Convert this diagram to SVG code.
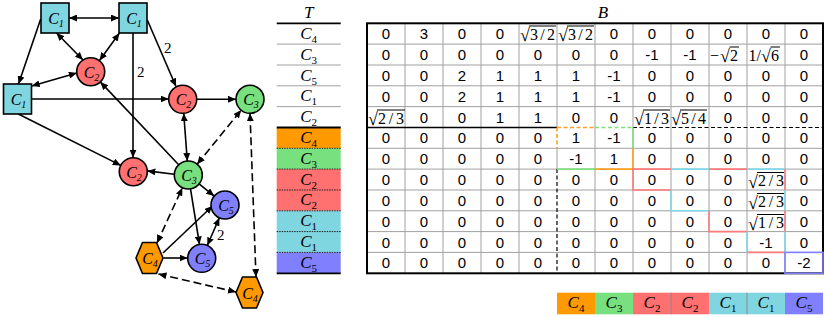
<svg xmlns="http://www.w3.org/2000/svg" width="830" height="318" viewBox="0 0 830 318">
<style>
.nd{stroke:#000;stroke-width:1.6}
.cy{fill:#80d6e0}.rd{fill:#ff7070}.gr{fill:#78e07e}.pu{fill:#8080ff}.or{fill:#ff9900}
.lb{font-family:"Liberation Serif",serif;font-size:16px;font-style:italic;fill:#000}
.sb{font-size:10px}
.e{fill:none;stroke:#000;stroke-width:1.6}
.d{stroke-dasharray:8 4}
.w{font-family:"Liberation Serif",serif;font-size:15px;fill:#000}
.n{font-family:"Liberation Sans",Arial,sans-serif;font-size:15px;text-anchor:middle;fill:#000}
.sq{font-family:"Liberation Serif",serif;font-size:18px;fill:#000}
.sa{font-family:"Liberation Serif",serif;font-size:16px;fill:#000}
.ov{stroke:#000;stroke-width:1}
.tl{font-family:"Liberation Serif",serif;font-size:17px;text-anchor:middle;fill:#000}
.tl .it{font-style:italic}
.tl .sb{font-size:11px}
.g{stroke:#a0a0a0;stroke-width:1}
.hl{stroke-width:1.6;fill:none}
.ho{stroke:#ffa020}.hg{stroke:#80e080}.hr{stroke:#ff7a7a}.hc{stroke:#80d8e8}.hp{stroke:#8080ff}
</style>
<defs>
<marker id="ah" viewBox="0 0 8 7" refX="8" refY="3.5" markerWidth="8" markerHeight="7" markerUnits="userSpaceOnUse" orient="auto-start-reverse"><path d="M0,0 L8,3.5 L0,7 z" fill="#000"/></marker>
</defs>

<g id="connectors">
<line class="e" x1="69" y1="18" x2="119" y2="18" marker-start="url(#ah)" marker-end="url(#ah)"/>
<line class="e" x1="40.7" y1="19" x2="18.5" y2="84" marker-end="url(#ah)"/>
<line class="e" x1="56.5" y1="33" x2="83" y2="60" marker-start="url(#ah)" marker-end="url(#ah)"/>
<line class="e" x1="119.5" y1="33" x2="99.5" y2="60.5" marker-start="url(#ah)" marker-end="url(#ah)"/>
<line class="e" x1="76.8" y1="73" x2="31.7" y2="86" marker-start="url(#ah)" marker-end="url(#ah)"/>
<line class="e" x1="147.3" y1="20" x2="176" y2="86.5" marker-end="url(#ah)"/>
<line class="e" x1="133" y1="33" x2="133" y2="157.7" marker-end="url(#ah)"/>
<line class="e" x1="31.5" y1="99" x2="168.7" y2="99" marker-end="url(#ah)"/>
<line class="e" x1="196.7" y1="99.3" x2="236" y2="99.3" marker-end="url(#ah)"/>
<line class="e" x1="18.3" y1="114" x2="120.8" y2="165.4" marker-end="url(#ah)"/>
<line class="e" x1="178.7" y1="164.8" x2="100.3" y2="81.9" marker-end="url(#ah)"/>
<line class="e" x1="183.7" y1="113.3" x2="187.3" y2="161" marker-start="url(#ah)" marker-end="url(#ah)"/>
<line class="e d" x1="197.1" y1="164.2" x2="241.2" y2="110.1" marker-start="url(#ah)" marker-end="url(#ah)"/>
<line class="e d" x1="250" y1="113.3" x2="256" y2="277" marker-start="url(#ah)" marker-end="url(#ah)"/>
<line class="e" x1="174.3" y1="174.2" x2="147.3" y2="170.9" marker-end="url(#ah)"/>
<line class="e" x1="199.1" y1="183.9" x2="214.2" y2="196.1" marker-end="url(#ah)"/>
<line class="e" x1="190.5" y1="188.8" x2="199.5" y2="244.5" marker-end="url(#ah)"/>
<line class="e" x1="219.4" y1="217.8" x2="207.3" y2="245.5" marker-start="url(#ah)" marker-end="url(#ah)"/>
<line class="e d" x1="157" y1="243" x2="182.4" y2="187.7" marker-start="url(#ah)" marker-end="url(#ah)"/>
<line class="e" x1="163" y1="253" x2="212.5" y2="206" marker-end="url(#ah)"/>
<line class="e" x1="163.5" y1="258" x2="187.5" y2="258" marker-end="url(#ah)"/>
<line class="e d" x1="158.5" y1="274" x2="236" y2="292" marker-start="url(#ah)" marker-end="url(#ah)"/>
<text class="w" x="164" y="53">2</text>
<text class="w" x="137" y="77">2</text>
<text class="w" x="217" y="240">2</text>
</g>

<g id="n-c1-a"><rect class="nd cy" x="41" y="3" width="28" height="30"/><text class="lb" x="56" y="24" text-anchor="middle">C<tspan class="sb" dy="3">1</tspan></text></g>
<g id="n-c1-b"><rect class="nd cy" x="119" y="3" width="28" height="30"/><text class="lb" x="134" y="24" text-anchor="middle">C<tspan class="sb" dy="3">1</tspan></text></g>
<g id="n-c1-c"><rect class="nd cy" x="3.5" y="84" width="28" height="30"/><text class="lb" x="18.5" y="105" text-anchor="middle">C<tspan class="sb" dy="3">1</tspan></text></g>
<g id="n-c2-a"><circle class="nd rd" cx="90.7" cy="71.7" r="14"/><text class="lb" x="91.5" y="77.5" text-anchor="middle">C<tspan class="sb" dy="3">2</tspan></text></g>
<g id="n-c2-b"><circle class="nd rd" cx="182.7" cy="99.3" r="14"/><text class="lb" x="183.5" y="105" text-anchor="middle">C<tspan class="sb" dy="3">2</tspan></text></g>
<g id="n-c3-a"><circle class="nd gr" cx="250" cy="99.3" r="14"/><text class="lb" x="251" y="105" text-anchor="middle">C<tspan class="sb" dy="3">3</tspan></text></g>
<g id="n-c2-c"><circle class="nd rd" cx="133.3" cy="171.7" r="14"/><text class="lb" x="134" y="177.5" text-anchor="middle">C<tspan class="sb" dy="3">2</tspan></text></g>
<g id="n-c3-b"><circle class="nd gr" cx="188.3" cy="175" r="14"/><text class="lb" x="189" y="181" text-anchor="middle">C<tspan class="sb" dy="3">3</tspan></text></g>
<g id="n-c5-a"><circle class="nd pu" cx="225" cy="205" r="14"/><text class="lb" x="226" y="211" text-anchor="middle">C<tspan class="sb" dy="3">5</tspan></text></g>
<g id="n-c5-b"><circle class="nd pu" cx="201.7" cy="258.3" r="14"/><text class="lb" x="202.5" y="264" text-anchor="middle">C<tspan class="sb" dy="3">5</tspan></text></g>
<g id="n-c4-a"><polygon class="nd or" points="136,258 142.5,242.5 156.5,242.5 163,258 156.5,273.5 142.5,273.5"/><text class="lb" x="150" y="264" text-anchor="middle">C<tspan class="sb" dy="3">4</tspan></text></g>
<g id="n-c4-b"><polygon class="nd or" points="236,292.5 242.5,277 256.5,277 263,292.5 256.5,308 242.5,308"/><text class="lb" x="250" y="298.5" text-anchor="middle">C<tspan class="sb" dy="3">4</tspan></text></g>

<g id="table-t">
<text class="tl" x="308.7" y="18"><tspan class="it">T</tspan></text>
<rect class="or" x="276.7" y="127.5" width="64" height="20.8"/>
<rect class="gr" x="276.7" y="148.3" width="64" height="20.8"/>
<rect class="rd" x="276.7" y="169.1" width="64" height="41.7"/>
<rect class="cy" x="276.7" y="210.8" width="64" height="41.6"/>
<rect class="pu" x="276.7" y="252.4" width="64" height="20.9"/>
<g class="g"><line x1="276.7" y1="44.1" x2="340.7" y2="44.1"/><line x1="276.7" y1="65" x2="340.7" y2="65"/><line x1="276.7" y1="85.8" x2="340.7" y2="85.8"/><line x1="276.7" y1="106.6" x2="340.7" y2="106.6"/></g>
<g stroke="#222" stroke-width="1" stroke-dasharray="1.5 1"><line x1="276.7" y1="148.3" x2="340.7" y2="148.3"/><line x1="276.7" y1="169.1" x2="340.7" y2="169.1"/><line x1="276.7" y1="190" x2="340.7" y2="190"/><line x1="276.7" y1="210.8" x2="340.7" y2="210.8"/><line x1="276.7" y1="231.6" x2="340.7" y2="231.6"/><line x1="276.7" y1="252.4" x2="340.7" y2="252.4"/></g>
<g stroke="#000" stroke-width="1.8"><line x1="276.7" y1="23.3" x2="340.7" y2="23.3"/><line x1="276.7" y1="127.5" x2="340.7" y2="127.5"/><line x1="276.7" y1="273.3" x2="340.7" y2="273.3"/></g>
<text class="tl" x="308.7" y="38.5"><tspan class="it">C</tspan><tspan class="sb" dy="4">4</tspan></text>
<text class="tl" x="308.7" y="59.5"><tspan class="it">C</tspan><tspan class="sb" dy="4">3</tspan></text>
<text class="tl" x="308.7" y="80.5"><tspan class="it">C</tspan><tspan class="sb" dy="4">5</tspan></text>
<text class="tl" x="308.7" y="101"><tspan class="it">C</tspan><tspan class="sb" dy="4">1</tspan></text>
<text class="tl" x="308.7" y="122"><tspan class="it">C</tspan><tspan class="sb" dy="4">2</tspan></text>
<text class="tl" x="308.7" y="142.5"><tspan class="it">C</tspan><tspan class="sb" dy="4">4</tspan></text>
<text class="tl" x="308.7" y="163.5"><tspan class="it">C</tspan><tspan class="sb" dy="4">3</tspan></text>
<text class="tl" x="308.7" y="184.5"><tspan class="it">C</tspan><tspan class="sb" dy="4">2</tspan></text>
<text class="tl" x="308.7" y="205"><tspan class="it">C</tspan><tspan class="sb" dy="4">2</tspan></text>
<text class="tl" x="308.7" y="226"><tspan class="it">C</tspan><tspan class="sb" dy="4">1</tspan></text>
<text class="tl" x="308.7" y="247"><tspan class="it">C</tspan><tspan class="sb" dy="4">1</tspan></text>
<text class="tl" x="308.7" y="267.5"><tspan class="it">C</tspan><tspan class="sb" dy="4">5</tspan></text>
</g>

<g id="table-b">
<text class="tl" x="603" y="18"><tspan class="it">B</tspan></text>
<g class="g">
<line x1="405" y1="23.3" x2="405" y2="273.3"/><line x1="443" y1="23.3" x2="443" y2="273.3"/><line x1="481" y1="23.3" x2="481" y2="273.3"/><line x1="519" y1="23.3" x2="519" y2="273.3"/>
<line x1="557" y1="23.3" x2="557" y2="127.5"/><line x1="557" y1="148.3" x2="557" y2="169.1"/>
<line x1="595" y1="23.3" x2="595" y2="273.3"/><line x1="633" y1="23.3" x2="633" y2="273.3"/><line x1="671" y1="23.3" x2="671" y2="273.3"/><line x1="709" y1="23.3" x2="709" y2="273.3"/><line x1="747" y1="23.3" x2="747" y2="273.3"/><line x1="785" y1="23.3" x2="785" y2="273.3"/>
<line x1="367" y1="44.1" x2="823" y2="44.1"/><line x1="367" y1="65" x2="823" y2="65"/><line x1="367" y1="85.8" x2="823" y2="85.8"/><line x1="367" y1="106.6" x2="823" y2="106.6"/>
<line x1="367" y1="148.3" x2="823" y2="148.3"/><line x1="367" y1="169.1" x2="823" y2="169.1"/><line x1="367" y1="190" x2="823" y2="190"/><line x1="367" y1="210.8" x2="823" y2="210.8"/><line x1="367" y1="231.6" x2="823" y2="231.6"/><line x1="367" y1="252.4" x2="823" y2="252.4"/>
</g>
<line x1="367" y1="127.5" x2="557" y2="127.5" stroke="#000" stroke-width="1.6"/>
<line x1="633" y1="127.5" x2="823" y2="127.5" stroke="#000" stroke-width="1.2" stroke-dasharray="4 2.5"/>
<line x1="557" y1="169.1" x2="557" y2="273.3" stroke="#000" stroke-width="1.2" stroke-dasharray="4 2.5"/>
<g class="hl">
<line class="ho" x1="557" y1="127.5" x2="595" y2="127.5" stroke-dasharray="4 2.5"/>
<line class="ho" x1="557" y1="127.5" x2="557" y2="148.3" stroke-dasharray="4 2.5"/>
<line class="hg" x1="595" y1="127.5" x2="633" y2="127.5" stroke-dasharray="4 2.5"/>
<line class="hg" x1="633" y1="127.5" x2="633" y2="148.3"/>
<line class="hg" x1="557" y1="169.1" x2="595" y2="169.1"/>
<line class="ho" x1="595" y1="169.1" x2="633" y2="169.1"/>
<line class="ho" x1="633" y1="148.3" x2="633" y2="169.1"/>
<path class="hr" d="M671,169.1 H633 V190 H671"/>
<line class="hc" x1="671" y1="169.1" x2="709" y2="169.1"/>
<line class="hr" x1="709" y1="169.1" x2="747" y2="169.1"/>
<line class="hc" x1="747" y1="169.1" x2="785" y2="169.1"/>
<line class="hr" x1="785" y1="169.1" x2="785" y2="190"/>
<path class="hc" d="M671,190 V210.8 H709"/>
<line class="hc" x1="785" y1="190" x2="785" y2="210.8"/>
<path class="hr" d="M709,210.8 V231.6 H747"/>
<line class="hr" x1="785" y1="210.8" x2="785" y2="231.6"/>
<line class="hc" x1="747" y1="231.6" x2="747" y2="252.4"/>
<line class="hr" x1="747" y1="252.4" x2="785" y2="252.4"/>
<line class="hc" x1="785" y1="231.6" x2="785" y2="252.4"/>
</g>
<rect x="367" y="23.3" width="456" height="250" fill="none" stroke="#000" stroke-width="2"/>
<rect class="hl hp" x="785" y="252.4" width="38" height="20.9"/>

<g id="row0">
<text class="n" x="386" y="39">0</text><text class="n" x="424" y="39">3</text><text class="n" x="462" y="39">0</text><text class="n" x="500" y="39">0</text>
<text class="sq" x="520" y="41">√</text><text class="sa" x="530" y="39.5" textLength="25" lengthAdjust="spacing">3/2</text><line class="ov" x1="529" y1="26" x2="556" y2="26"/>
<text class="sq" x="558" y="41">√</text><text class="sa" x="568" y="39.5" textLength="25" lengthAdjust="spacing">3/2</text><line class="ov" x1="567" y1="26" x2="594" y2="26"/>
<text class="n" x="614" y="39">0</text><text class="n" x="652" y="39">0</text><text class="n" x="690" y="39">0</text><text class="n" x="728" y="39">0</text><text class="n" x="766" y="39">0</text><text class="n" x="804" y="39">0</text>
</g>
<g id="row1">
<text class="n" x="386" y="60">0</text><text class="n" x="424" y="60">0</text><text class="n" x="462" y="60">0</text><text class="n" x="500" y="60">0</text><text class="n" x="538" y="60">0</text><text class="n" x="576" y="60">0</text><text class="n" x="614" y="60">0</text><text class="n" x="652" y="60">-1</text><text class="n" x="690" y="60">-1</text>
<text class="sa" x="710" y="60.5">−</text><text class="sq" x="720" y="62">√</text><text class="sa" x="730" y="60.5">2</text><line class="ov" x1="729.5" y1="47" x2="739" y2="47"/>
<text class="sa" x="748.5" y="60.5">1/</text><text class="sq" x="761" y="62">√</text><text class="sa" x="771" y="60.5">6</text><line class="ov" x1="770.5" y1="47" x2="780" y2="47"/>
<text class="n" x="804" y="60">0</text>
</g>
<g id="row2">
<text class="n" x="386" y="81">0</text><text class="n" x="424" y="81">0</text><text class="n" x="462" y="81">2</text><text class="n" x="500" y="81">1</text><text class="n" x="538" y="81">1</text><text class="n" x="576" y="81">1</text><text class="n" x="614" y="81">-1</text><text class="n" x="652" y="81">0</text><text class="n" x="690" y="81">0</text><text class="n" x="728" y="81">0</text><text class="n" x="766" y="81">0</text><text class="n" x="804" y="81">0</text>
</g>
<g id="row3">
<text class="n" x="386" y="101.5">0</text><text class="n" x="424" y="101.5">0</text><text class="n" x="462" y="101.5">2</text><text class="n" x="500" y="101.5">1</text><text class="n" x="538" y="101.5">1</text><text class="n" x="576" y="101.5">1</text><text class="n" x="614" y="101.5">-1</text><text class="n" x="652" y="101.5">0</text><text class="n" x="690" y="101.5">0</text><text class="n" x="728" y="101.5">0</text><text class="n" x="766" y="101.5">0</text><text class="n" x="804" y="101.5">0</text>
</g>
<g id="row4">
<text class="sq" x="368" y="125">√</text><text class="sa" x="378" y="123.5" textLength="26" lengthAdjust="spacing">2/3</text><line class="ov" x1="377" y1="110" x2="405" y2="110"/>
<text class="n" x="424" y="122.5">0</text><text class="n" x="462" y="122.5">0</text><text class="n" x="500" y="122.5">1</text><text class="n" x="538" y="122.5">1</text><text class="n" x="576" y="122.5">0</text><text class="n" x="614" y="122.5">0</text>
<text class="sq" x="634" y="125">√</text><text class="sa" x="644" y="123.5" textLength="25" lengthAdjust="spacing">1/3</text><line class="ov" x1="643" y1="110" x2="670" y2="110"/>
<text class="sq" x="671" y="125">√</text><text class="sa" x="681" y="123.5" textLength="25" lengthAdjust="spacing">5/4</text><line class="ov" x1="680" y1="110" x2="707" y2="110"/>
<text class="n" x="728" y="122.5">0</text><text class="n" x="766" y="122.5">0</text><text class="n" x="804" y="122.5">0</text>
</g>
<g id="row5">
<text class="n" x="386" y="143">0</text><text class="n" x="424" y="143">0</text><text class="n" x="462" y="143">0</text><text class="n" x="500" y="143">0</text><text class="n" x="538" y="143">0</text><text class="n" x="576" y="143">1</text><text class="n" x="614" y="143">-1</text><text class="n" x="652" y="143">0</text><text class="n" x="690" y="143">0</text><text class="n" x="728" y="143">0</text><text class="n" x="766" y="143">0</text><text class="n" x="804" y="143">0</text>
</g>
<g id="row6">
<text class="n" x="386" y="164">0</text><text class="n" x="424" y="164">0</text><text class="n" x="462" y="164">0</text><text class="n" x="500" y="164">0</text><text class="n" x="538" y="164">0</text><text class="n" x="576" y="164">-1</text><text class="n" x="614" y="164">1</text><text class="n" x="652" y="164">0</text><text class="n" x="690" y="164">0</text><text class="n" x="728" y="164">0</text><text class="n" x="766" y="164">0</text><text class="n" x="804" y="164">0</text>
</g>
<g id="row7">
<text class="n" x="386" y="185">0</text><text class="n" x="424" y="185">0</text><text class="n" x="462" y="185">0</text><text class="n" x="500" y="185">0</text><text class="n" x="538" y="185">0</text><text class="n" x="576" y="185">0</text><text class="n" x="614" y="185">0</text><text class="n" x="652" y="185">0</text><text class="n" x="690" y="185">0</text><text class="n" x="728" y="185">0</text>
<text class="sq" x="748" y="187.5">√</text><text class="sa" x="758" y="186" textLength="26" lengthAdjust="spacing">2/3</text><line class="ov" x1="757" y1="172.5" x2="784" y2="172.5"/>
<text class="n" x="804" y="185">0</text>
</g>
<g id="row8">
<text class="n" x="386" y="205.5">0</text><text class="n" x="424" y="205.5">0</text><text class="n" x="462" y="205.5">0</text><text class="n" x="500" y="205.5">0</text><text class="n" x="538" y="205.5">0</text><text class="n" x="576" y="205.5">0</text><text class="n" x="614" y="205.5">0</text><text class="n" x="652" y="205.5">0</text><text class="n" x="690" y="205.5">0</text><text class="n" x="728" y="205.5">0</text>
<text class="sq" x="748" y="208.5">√</text><text class="sa" x="758" y="207" textLength="26" lengthAdjust="spacing">2/3</text><line class="ov" x1="757" y1="193.5" x2="784" y2="193.5"/>
<text class="n" x="804" y="205.5">0</text>
</g>
<g id="row9">
<text class="n" x="386" y="226.5">0</text><text class="n" x="424" y="226.5">0</text><text class="n" x="462" y="226.5">0</text><text class="n" x="500" y="226.5">0</text><text class="n" x="538" y="226.5">0</text><text class="n" x="576" y="226.5">0</text><text class="n" x="614" y="226.5">0</text><text class="n" x="652" y="226.5">0</text><text class="n" x="690" y="226.5">0</text><text class="n" x="728" y="226.5">0</text>
<text class="sq" x="748" y="229.5">√</text><text class="sa" x="758" y="228" textLength="26" lengthAdjust="spacing">1/3</text><line class="ov" x1="757" y1="214.5" x2="784" y2="214.5"/>
<text class="n" x="804" y="226.5">0</text>
</g>
<g id="row10">
<text class="n" x="386" y="247.5">0</text><text class="n" x="424" y="247.5">0</text><text class="n" x="462" y="247.5">0</text><text class="n" x="500" y="247.5">0</text><text class="n" x="538" y="247.5">0</text><text class="n" x="576" y="247.5">0</text><text class="n" x="614" y="247.5">0</text><text class="n" x="652" y="247.5">0</text><text class="n" x="690" y="247.5">0</text><text class="n" x="728" y="247.5">0</text><text class="n" x="766" y="247.5">-1</text><text class="n" x="804" y="247.5">0</text>
</g>
<g id="row11">
<text class="n" x="386" y="268">0</text><text class="n" x="424" y="268">0</text><text class="n" x="462" y="268">0</text><text class="n" x="500" y="268">0</text><text class="n" x="538" y="268">0</text><text class="n" x="576" y="268">0</text><text class="n" x="614" y="268">0</text><text class="n" x="652" y="268">0</text><text class="n" x="690" y="268">0</text><text class="n" x="728" y="268">0</text><text class="n" x="766" y="268">0</text><text class="n" x="804" y="268">-2</text>
</g>
</g>

<g id="legend-bar">
<rect class="or" x="557" y="292.7" width="38" height="21.6"/>
<rect class="gr" x="595" y="292.7" width="38" height="21.6"/>
<rect class="rd" x="633" y="292.7" width="76" height="21.6"/>
<rect class="cy" x="709" y="292.7" width="76" height="21.6"/>
<rect class="pu" x="785" y="292.7" width="38" height="21.6"/>
<g stroke="#888" stroke-width="1"><line x1="671" y1="292.7" x2="671" y2="314.3"/><line x1="747" y1="292.7" x2="747" y2="314.3"/></g>
<text class="tl" x="576" y="307.5"><tspan class="it">C</tspan><tspan class="sb" dy="4">4</tspan></text>
<text class="tl" x="614" y="307.5"><tspan class="it">C</tspan><tspan class="sb" dy="4">3</tspan></text>
<text class="tl" x="652" y="307.5"><tspan class="it">C</tspan><tspan class="sb" dy="4">2</tspan></text>
<text class="tl" x="690" y="307.5"><tspan class="it">C</tspan><tspan class="sb" dy="4">2</tspan></text>
<text class="tl" x="728" y="307.5"><tspan class="it">C</tspan><tspan class="sb" dy="4">1</tspan></text>
<text class="tl" x="766" y="307.5"><tspan class="it">C</tspan><tspan class="sb" dy="4">1</tspan></text>
<text class="tl" x="804" y="307.5"><tspan class="it">C</tspan><tspan class="sb" dy="4">5</tspan></text>
</g>
</svg>
